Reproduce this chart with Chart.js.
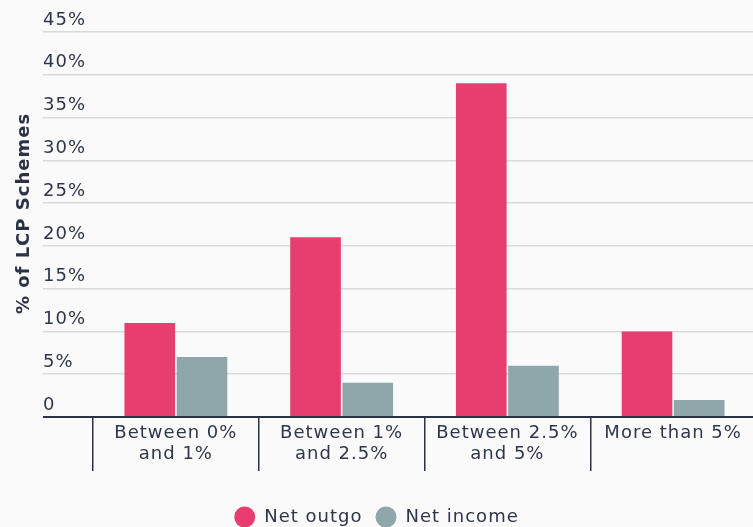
<!DOCTYPE html>
<html>
<head>
<meta charset="utf-8">
<script src="https://cdn.jsdelivr.net/npm/chart.js@4.4.1/dist/chart.umd.min.js"></script>
<style>
  html, body { margin: 0; padding: 0; background: #fafafa; overflow: hidden; width: 753px; height: 527px; }
  canvas { display: block; }
</style>
</head>
<body>
<canvas id="chart" width="756" height="540"></canvas>
<script>
// Share of LCP schemes by size of net cash flow
const categories = [["Between 0%", "and 1%"], ["Between 1%", "and 2.5%"], ["Between 2.5%", "and 5%"], "More than 5%"];
const seriesNames = ["Net outgo", "Net income"];
const netOutgo = [11, 21, 39, 10];
const netIncome = [7, 4, 6, 2];
const yTickValues = [0, 5, 10, 15, 20, 25, 30, 35, 40, 45];
const yAxisTitle = "% of LCP Schemes";

const FONT = "'DejaVu Sans', sans-serif";
const TEXT = "#2e3649";
const DARK = "#2b3245";
const GRID = "#d9d9d9";
const PINK = "#e83e6f";
const SLATE = "#8fa7aa";
const LABEL_LEFT = 43;   // left edge of the y tick labels and grid lines
const VIEW_WIDTH = 753;  // visible page width; the plot runs slightly past it

// letter spacing, page background and a few box adjustments
const canvasStyle = {
  id: "canvasStyle",
  beforeUpdate(chart) { chart.ctx.letterSpacing = "1px"; },
  afterLayout(chart) {
    // y tick labels start at a fixed left edge, leaving the margin for the title
    chart.scales.y.left = LABEL_LEFT;
    // centre the legend on the visible page
    chart.legend.left = 0;
    chart.legend.right = VIEW_WIDTH;
  },
  beforeDraw(chart) {
    const ctx = chart.ctx;
    ctx.letterSpacing = "1px";
    ctx.save();
    ctx.fillStyle = "#fafafa";
    ctx.fillRect(0, 0, chart.width, chart.height);
    ctx.restore();
  }
};

// rotated y-axis title in the left margin
const yTitlePlugin = {
  id: "yTitle",
  afterDraw(chart) {
    const { ctx, chartArea } = chart;
    ctx.save();
    ctx.letterSpacing = "1px";
    ctx.translate(24, (chartArea.top + chartArea.bottom) / 2 - 11);
    ctx.rotate(-Math.PI / 2);
    ctx.font = "bold 18px " + FONT;
    ctx.fillStyle = DARK;
    ctx.textAlign = "center";
    ctx.textBaseline = "middle";
    ctx.fillText(yAxisTitle, 0, 0);
    ctx.restore();
  }
};

new Chart(document.getElementById("chart"), {
  type: "bar",
  data: {
    labels: categories,
    datasets: [
      { label: seriesNames[0], data: netOutgo, backgroundColor: PINK, barPercentage: 0.97, categoryPercentage: 0.63 },
      { label: seriesNames[1], data: netIncome, backgroundColor: SLATE, barPercentage: 0.97, categoryPercentage: 0.63 }
    ]
  },
  options: {
    responsive: false,
    animation: false,
    devicePixelRatio: 1,
    layout: { padding: { left: 0, top: 32, right: 0, bottom: 4 } },
    plugins: {
      tooltip: { enabled: false },
      legend: {
        position: "bottom",
        labels: {
          usePointStyle: true,
          pointStyle: "circle",
          boxHeight: 15,
          pointStyleWidth: 21,
          padding: 13,
          color: TEXT,
          font: { family: FONT, size: 18 }
        }
      }
    },
    scales: {
      x: {
        border: { display: false },
        grid: { offset: true, drawOnChartArea: false, drawTicks: true, tickLength: 54, color: DARK, lineWidth: 1.5 },
        ticks: { padding: -48, color: TEXT, maxRotation: 0, font: { family: FONT, size: 18, lineHeight: 1.16 } },
        afterFit(scale) { scale.height = 78; }
      },
      y: {
        min: 0,
        max: 45,
        border: { display: false },
        afterBuildTicks(scale) { scale.ticks = yTickValues.map(v => ({ value: v })); },
        ticks: {
          crossAlign: "far",
          labelOffset: -12,
          padding: 0,
          color: TEXT,
          font: { family: FONT, size: 18 },
          callback: v => (v === 0 ? "0" : v + "%")
        },
        grid: {
          drawTicks: true,
          tickLength: 50,
          color: c => (c.tick && c.tick.value === 0 ? DARK : GRID),
          lineWidth: c => (c.tick && c.tick.value === 0 ? 2 : 1.5)
        },
        afterFit(scale) { scale.width = 93; }
      }
    }
  },
  plugins: [canvasStyle, yTitlePlugin]
});
</script>
</body>
</html>
